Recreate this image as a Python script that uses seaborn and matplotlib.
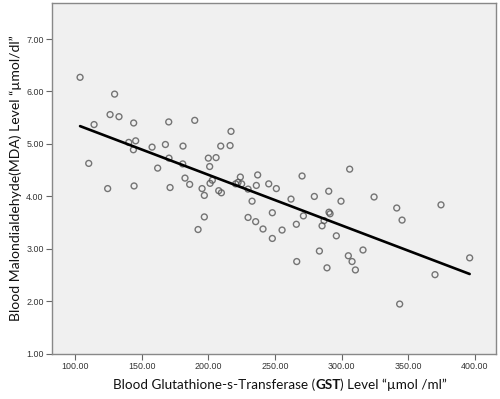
import matplotlib
matplotlib.use('Agg')
import matplotlib.pyplot as plt
import seaborn as sns
import pandas as pd
from matplotlib.offsetbox import TextArea, HPacker, AnchoredOffsetbox

# values
gst = [103.8, 129.7, 126.3, 133.0, 144.0, 170.3, 189.8, 114.3, 217.0, 140.3,
       145.5, 143.8, 157.8, 167.8, 181.0, 209.3, 216.3, 110.3, 170.5, 162.0,
       180.8, 200.0, 205.8, 201.0, 124.5, 144.3, 171.3, 182.5, 186.0, 195.3,
       197.0, 201.3, 203.0, 207.8, 209.8, 197.0, 224.0, 220.5, 225.0, 222.3,
       229.8, 237.0, 236.0, 232.8, 245.3, 251.0, 229.8, 235.5, 248.0, 241.0,
       192.3, 248.0, 255.3, 270.3, 262.0, 279.5, 290.3, 299.5, 306.0, 324.3,
       271.3, 266.0, 290.5, 291.3, 286.8, 285.3, 296.0, 283.3, 266.3, 289.0,
       305.0, 307.8, 310.3, 316.0, 341.3, 345.3, 374.5, 396.0, 370.0, 343.5]
mda = [6.27, 5.95, 5.56, 5.52, 5.40, 5.42, 5.45, 5.37, 5.24, 5.03,
       5.06, 4.89, 4.94, 4.99, 4.96, 4.96, 4.97, 4.63, 4.73, 4.54,
       4.62, 4.73, 4.74, 4.57, 4.15, 4.20, 4.17, 4.35, 4.23, 4.15,
       4.02, 4.25, 4.31, 4.11, 4.07, 3.61, 4.37, 4.24, 4.24, 4.27,
       4.14, 4.41, 4.21, 3.91, 4.24, 4.15, 3.60, 3.52, 3.69, 3.38,
       3.37, 3.20, 3.36, 4.39, 3.95, 4.00, 4.10, 3.91, 4.52, 3.99,
       3.63, 3.47, 3.70, 3.67, 3.54, 3.44, 3.25, 2.96, 2.76, 2.64,
       2.87, 2.76, 2.60, 2.98, 3.78, 3.55, 3.84, 2.83, 2.51, 1.95]

x_ticks = [100, 150, 200, 250, 300, 350, 400]
y_ticks = [1, 2, 3, 4, 5, 6, 7]

df = pd.DataFrame({'gst': gst, 'mda': mda})

sns.set_style('white')
plt.rcParams['font.family'] = ['Liberation Sans', 'DejaVu Sans']

fig = plt.figure(figsize=(5, 3.99), dpi=100)
ax = fig.add_axes([0.104, 0.113, 0.888, 0.880])
ax.set_facecolor('#f0f0f0')

# scatter + least squares line, no confidence band
sns.regplot(data=df, x='gst', y='mda', ci=None, ax=ax,
            scatter_kws=dict(facecolors='none', edgecolors='#555555', s=18, linewidths=1.0),
            line_kws=dict(color='black', lw=1.9))

ax.set_xlim(82.75, 415.75)
ax.set_ylim(1.0, 7.69)
ax.set_xticks(x_ticks)
ax.set_yticks(y_ticks)
ax.set_xticklabels(['%.2f' % v for v in x_ticks])
ax.set_yticklabels(['%.2f' % v for v in y_ticks])
ax.tick_params(direction='out', length=4, width=0.8, color='#666666',
               labelsize=6.4, labelcolor='#333333', pad=2,
               bottom=True, left=True)
for sp in ax.spines.values():
    sp.set_color('#888888')
    sp.set_linewidth(1.0)
ax.set_xlabel('')
ax.set_ylabel('Blood Malondialdehyde(MDA) Level \u201c\u00b5mol/dl\u201d',
              family='Lato', fontsize=10.1, color='#111111', labelpad=3)

# x label with bold GST
props = dict(family='Lato', size=9.75, color='#111111')
parts = [TextArea('Blood Glutathione-s-Transferase (', textprops=props),
         TextArea('GST', textprops=dict(props, weight='bold')),
         TextArea(') Level \u201c\u00b5mol /ml\u201d', textprops=props)]
box = HPacker(children=parts, align='baseline', pad=0, sep=0)
anch = AnchoredOffsetbox(loc='center', child=box, pad=0, frameon=False,
                         bbox_to_anchor=(0.56, 0.035), bbox_transform=fig.transFigure,
                         borderpad=0)
fig.add_artist(anch)

fig.savefig('out.png', dpi=100)
